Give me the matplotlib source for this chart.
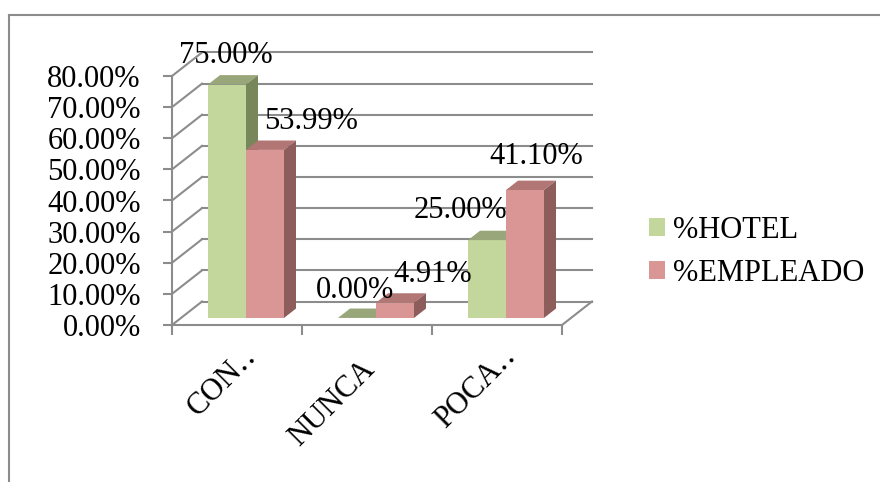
import matplotlib
matplotlib.use('Agg')
import matplotlib.pyplot as plt
from matplotlib.patches import Polygon, Patch
from matplotlib.lines import Line2D

categorias = ['CON\u2025', 'NUNCA', 'POCA\u2025']
hotel = [75.00, 0.00, 25.00]
empleado = [53.99, 4.91, 41.10]
series = ['%HOTEL', '%EMPLEADO']
yticks = [0, 10, 20, 30, 40, 50, 60, 70, 80]

plt.rcParams['font.family'] = ['Liberation Serif', 'DejaVu Serif']
FS = 22
GRID = '#8c8c8c'
colores = {
    'front': ['#C3D69B', '#D99694'],
    'top': ['#98A67A', '#B27674'],
    'side': ['#78875A', '#8D5D5C'],
}
# label offsets in pixels from bar top (Excel placed them irregularly)
offs = [[(-1, 29), (-2, 27), (-27, 30)],
        [(46, 28), (38, 28), (11, 34)]]
# category label anchor offsets in pixels
cat_offs = [(15, -27), (3, -40), (15, -27)]

W, H = 880, 482
fig = plt.figure(figsize=(W / 100, H / 100), dpi=100)
ax = fig.add_axes([172 / W, 1 - 325 / H, 390 / W, 249 / H])
ax.set_xlim(0, 3)
ax.set_ylim(0, 80)

# pixel -> data
px = 3 / 390
py = 80 / 249
Dx, Dy = 30 * px, 23.5 * py          # floor depth
fx, fy = 0.3 * Dx, 0.3 * Dy          # bar front position in depth
bx, by = 0.4 * Dx, 0.4 * Dy          # bar depth
w = 38 * px

# walls / gridlines
for v in yticks:
    ax.plot([0, Dx], [v, v + Dy], color=GRID, lw=1.5, zorder=1, clip_on=False)
    ax.plot([Dx, 3 + Dx], [v + Dy, v + Dy], color=GRID, lw=1.5, zorder=1, clip_on=False)
ax.plot([3, 3 + Dx], [0, Dy], color=GRID, lw=1.5, zorder=1, clip_on=False)

# bars
for s, vals in enumerate([hotel, empleado]):
    xs = [i + 0.5 + fx - w + s * w for i in range(len(vals))]
    ax.bar(xs, vals, width=w, bottom=fy, align='edge',
           color=colores['front'][s], zorder=3 + s, clip_on=False)
    for i, (x0, v) in enumerate(zip(xs, vals)):
        x1 = x0 + w
        t = fy + v
        ax.add_patch(Polygon([(x0, t), (x1, t), (x1 + bx, t + by), (x0 + bx, t + by)],
                             closed=True, facecolor=colores['top'][s], edgecolor='none',
                             zorder=3 + s, clip_on=False))
        ax.add_patch(Polygon([(x1, fy), (x1, t), (x1 + bx, t + by), (x1 + bx, fy + by)],
                             closed=True, facecolor=colores['side'][s], edgecolor='none',
                             zorder=3 + s, clip_on=False))
        ax.annotate(f'{v:.2f}%', xy=(x0 + w / 2, t), xytext=offs[s][i],
                    textcoords='offset pixels', ha='center', va='center',
                    fontsize=FS, zorder=10, annotation_clip=False)

# axes
for side in ['top', 'right']:
    ax.spines[side].set_visible(False)
for side in ['left', 'bottom']:
    ax.spines[side].set_color(GRID)
    ax.spines[side].set_linewidth(1.5)
ax.set_yticks(yticks)
ax.set_yticklabels([f'{v:.2f}%' for v in yticks], fontsize=FS)
ax.tick_params(axis='y', direction='out', length=6.5, width=1.5, color=GRID, pad=16)
ax.set_xticks([0, 1, 2, 3])
ax.set_xticklabels([])
ax.tick_params(axis='x', direction='out', length=7, width=1.5, color=GRID)
for i, c in enumerate(categorias):
    ax.annotate(c, xy=(i + 0.5, 0), xytext=cat_offs[i], textcoords='offset pixels',
                rotation=45, rotation_mode='anchor', ha='right', va='center',
                fontsize=FS, annotation_clip=False)

# legend
handles = [Patch(facecolor=colores['front'][0]), Patch(facecolor=colores['front'][1])]
fig.legend(handles, series, loc='center left', bbox_to_anchor=(649 / W, 1 - 252 / H),
           frameon=False, fontsize=FS, handlelength=0.52, handleheight=0.52,
           handletextpad=0.27, labelspacing=0.45, borderpad=0, borderaxespad=0)

# outer border
fig.add_artist(Line2D([9 / W, 9 / W], [0, 1 - 15 / H], color=GRID, lw=1.5))
fig.add_artist(Line2D([9 / W, 1], [1 - 15 / H, 1 - 15 / H], color=GRID, lw=1.5))

fig.savefig('out.png', dpi=100)
